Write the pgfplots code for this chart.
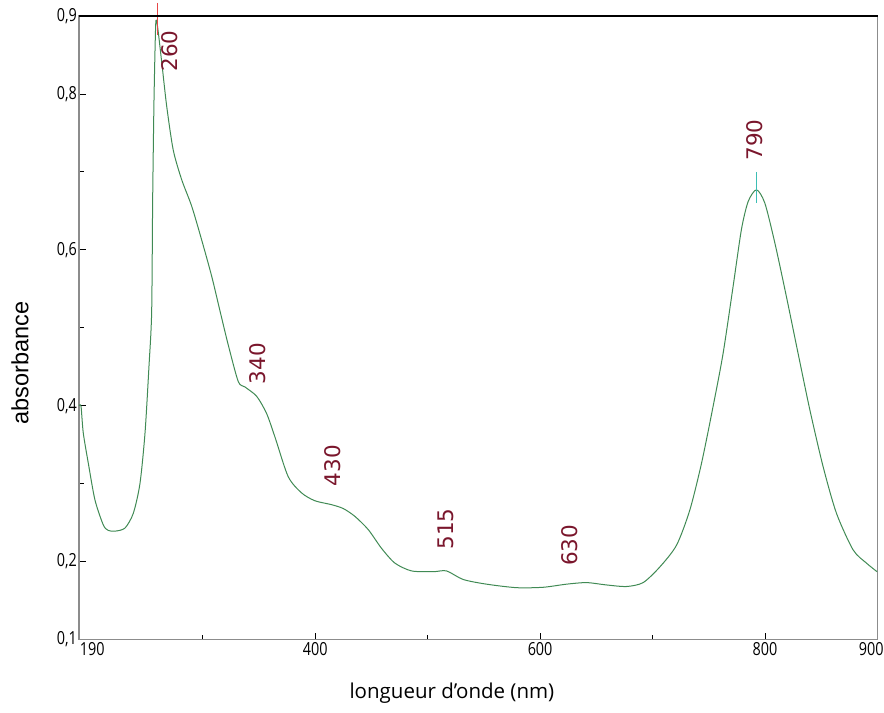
\documentclass[border=0pt]{standalone}
\usepackage{fontspec}
\setmainfont{Open Sans}
\newfontfamily\tickfont[FakeStretch=0.8]{Open Sans}
\newfontfamily\ylabfont{Liberation Sans}
\newfontfamily\peakfont{DejaVu Sans}
\usepackage{pgfplots}
\pgfplotsset{compat=1.18}
\definecolor{curve}{RGB}{64,138,84}
\definecolor{peak}{RGB}{122,22,44}
\definecolor{axgray}{RGB}{140,140,140}
\definecolor{redmark}{RGB}{230,70,70}
\definecolor{cyanmark}{RGB}{60,190,180}
\pgfplotstableread{
x y
190 0.400
191.8 0.399
193.8 0.365
198.3 0.326
204.2 0.279
211.6 0.247
216 0.240
222 0.239
230.9 0.243
238.3 0.262
244.2 0.300
248.7 0.365
252.2 0.450
254.6 0.520
255.5 0.664
256.7 0.793
258.2 0.889
259.4 0.890
260.6 0.878
264 0.835
268 0.784
273.8 0.728
281.3 0.690
290.2 0.656
299 0.613
308 0.566
315.3 0.522
322.7 0.478
331.6 0.431
337.6 0.424
348 0.412
356.8 0.390
364.2 0.360
376 0.309
388 0.288
399.8 0.278
414.6 0.273
425 0.268
435.3 0.258
447.2 0.241
459 0.217
470.9 0.198
485.7 0.188
505 0.187
516.8 0.188
531.6 0.177
552.4 0.171
579 0.1665
602.7 0.167
623.5 0.171
641.3 0.173
659 0.170
676.8 0.168
691.6 0.173
706.4 0.193
721.3 0.221
733.1 0.266
743.5 0.326
753.8 0.399
762.7 0.467
771.6 0.553
779 0.626
785 0.662
792.4 0.677
799.8 0.660
808.7 0.609
819 0.540
829.4 0.467
839.8 0.395
851.6 0.322
863.5 0.262
878.3 0.215
890.2 0.198
899.6 0.187
}\spectrum
\begin{document}
\begin{tikzpicture}
\useasboundingbox (-79bp,-73.5bp) rectangle (805bp,639.5bp);
\begin{axis}[
  at={(0,0)}, anchor=south west, scale only axis,
  width=798.5bp, height=623.5bp,
  xmin=190, xmax=900, ymin=0.1, ymax=0.9,
  clip=false,
  axis line style={axgray, line width=1.8bp},
  xtick={190,400,600,800,900},
  xticklabels={\makebox[0pt][l]{\hspace*{1bp}190},400,600,800,\raisebox{3bp}{\makebox[0pt][r]{900\hspace*{-6bp}}}},
  minor xtick={300,500,700},
  ytick={0.1,0.2,0.4,0.6,0.8,0.9},
  yticklabels={{\raisebox{3bp}{0,1}},{0,2},{0,4},{0,6},{0,8},{0,9}},
  minor ytick={0.3,0.5,0.7},
  xtick pos=bottom, ytick pos=left,
  tick align=inside,
  major tick length=7bp, minor tick length=5bp,
  tick style={black, line width=0.8bp},
  xticklabel style={font=\tickfont\fontsize{18bp}{20bp}\selectfont, inner sep=1bp, yshift=-2bp},
  yticklabel style={font=\tickfont\fontsize{18bp}{20bp}\selectfont, inner sep=1bp, xshift=-1bp},
  xlabel={longueur d'onde (nm)},
  xlabel style={at={(axis description cs:0.467,-0.086)}, anchor=center, font=\fontsize{20.5bp}{24bp}\selectfont},
  ylabel={absorbance},
  ylabel style={at={(axis description cs:-0.074,0.443)}, anchor=center, rotate=0, font=\ylabfont\fontsize{23.5bp}{26bp}\selectfont},
]
\addplot[curve, line width=1bp, smooth, tension=0.45] table[x=x,y=y] {\spectrum};
\addplot[redmark, line width=1bp, forget plot] coordinates {(259.5,0.917) (259.5,0.875)};
\addplot[cyanmark, line width=1bp, forget plot] coordinates {(792.4,0.700) (792.4,0.660)};
\draw[black, line width=1.3bp] (rel axis cs:0,1) -- (rel axis cs:1,1);
\begin{scope}[every node/.style={rotate=90, text=peak, font=\peakfont\fontsize{21.5bp}{23bp}\selectfont}]
\node at (axis cs:270.9,0.855) {260};
\node at (axis cs:349,0.454) {340};
\node at (axis cs:415.8,0.323) {430};
\node at (axis cs:516.2,0.242) {515};
\node at (axis cs:626.4,0.221) {630};
\node at (axis cs:790.9,0.741) {790};
\end{scope}
\end{axis}
\end{tikzpicture}
\end{document}
